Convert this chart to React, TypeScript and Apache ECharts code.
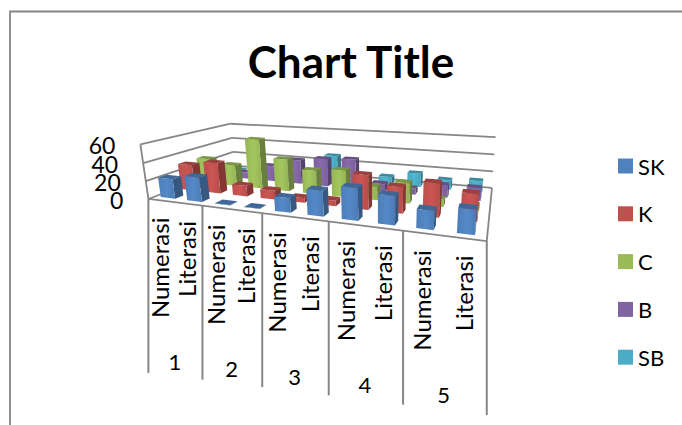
import React, { useEffect, useRef } from "react";
import * as echarts from "echarts";

// Two-level category axis: five groups, each with two assessments.
const groupLabels = ["1", "2", "3", "4", "5"];
const subLabels = ["Numerasi", "Literasi"];
const yTicks = [0, 20, 40, 60];

// Each list runs 1-Numerasi, 1-Literasi, 2-Numerasi, ... 5-Literasi.
const skValues = [22, 27, 0.5, 0.5, 15, 26, 32, 28, 18, 23];
const kValues = [30, 35, 12, 10, 5, 6, 36, 27, 34, 27];
const cValues = [30, 25, 58, 37, 27, 30, 15, 22, 8, 5];
const bValues = [0.5, 8, 19, 29, 33, 35, 9, 7, 14, 14];
const sbValues = [1, 1, 1, 1, 30, 2, 9, 16, 11, 13];

const seriesNames = ["SK", "K", "C", "B", "SB"];
const seriesValues = [skValues, kValues, cValues, bValues, sbValues];
const seriesColors = ["#4F81BD", "#C0504D", "#9BBB59", "#8064A2", "#4BACC6"];

const categories = groupLabels.flatMap((g) => subLabels.map((s) => `${g} ${s}`));

const WIDTH = 682;
const HEIGHT = 425;
const AXIS_COLOR = "#868686";
const FONT = "Lato, sans-serif";
// Columns keep a nearly constant screen width, so their share of a slot shrinks to the right.
const BAR_WIDTH_LEFT = 0.56;
const BAR_WIDTH_RIGHT = 0.42;
const BAR_DEPTH = 0.4; // share of a series row
const TICK_DROP = 174;

// Known positions of the chart box: [u along categories, v into depth, z up, screen x, screen y]
const boxAnchors: number[][] = [
  [0, 0, 0, 148, 199],
  [0.2, 0, 0, 202, 205.7],
  [0.4, 0, 0, 262, 213],
  [0.6, 0, 0, 329, 221.4],
  [0.8, 0, 0, 403, 230.6],
  [1, 0, 0, 487, 241],
  [0, 1, 0, 235, 166],
  [1, 1, 0, 492, 187],
  [0, 0, 1 / 3, 146, 181],
  [0, 1, 1 / 3, 233, 152],
  [1, 1, 1 / 3, 493, 172],
  [0, 0, 2 / 3, 143, 163],
  [0, 1, 2 / 3, 232, 138],
  [1, 1, 2 / 3, 494, 155],
  [0, 0, 1, 141, 145],
  [0, 1, 1, 230, 123],
  [1, 1, 1, 496, 137],
];

// Least-squares fit of a perspective camera (3x4 matrix with its last entry fixed at 1).
function fitCamera(anchors: number[][]): number[] {
  const rows: number[][] = [];
  const rhs: number[] = [];
  for (const [u, v, z, sx, sy] of anchors) {
    const x = sx / 100;
    const y = sy / 100;
    rows.push([u, v, z, 1, 0, 0, 0, 0, -x * u, -x * v, -x * z]);
    rhs.push(x);
    rows.push([0, 0, 0, 0, u, v, z, 1, -y * u, -y * v, -y * z]);
    rhs.push(y);
  }
  const n = 11;
  const m: number[][] = Array.from({ length: n }, (_, i) =>
    Array.from({ length: n + 1 }, (_, j) => {
      let sum = 0;
      rows.forEach((r, k) => {
        sum += r[i] * (j === n ? rhs[k] : r[j]);
      });
      return sum;
    })
  );
  for (let i = 0; i < n; i++) {
    let pivot = i;
    for (let r = i + 1; r < n; r++) if (Math.abs(m[r][i]) > Math.abs(m[pivot][i])) pivot = r;
    [m[i], m[pivot]] = [m[pivot], m[i]];
    for (let r = 0; r < n; r++) {
      if (r === i) continue;
      const f = m[r][i] / m[i][i];
      for (let c = i; c <= n; c++) m[r][c] -= f * m[i][c];
    }
  }
  return m.map((r, i) => r[n] / r[i]);
}

const camera = fitCamera(boxAnchors);

function project(u: number, v: number, z: number): number[] {
  const p = camera;
  const w = p[8] * u + p[9] * v + p[10] * z + 1;
  return [
    (100 * (p[0] * u + p[1] * v + p[2] * z + p[3])) / w,
    (100 * (p[4] * u + p[5] * v + p[6] * z + p[7])) / w,
  ];
}

function shade(hex: string, f: number): string {
  const n = parseInt(hex.slice(1), 16);
  const ch = (s: number) => Math.max(0, Math.min(255, Math.round(((n >> s) & 255) * f)));
  return `rgb(${ch(16)},${ch(8)},${ch(0)})`;
}

// One 3D column: the scales supply its slot and height, the camera places its faces.
function columnRenderer(seriesIdx: number) {
  const base = seriesColors[seriesIdx];
  return (params: any, api: any) => {
    const sys = params.coordSys;
    const top = api.coord([api.value(0), api.value(1)]);
    const slotCentre = (top[0] - sys.x) / sys.width;
    const z = (sys.y + sys.height - top[1]) / sys.height;
    const share = BAR_WIDTH_LEFT + (BAR_WIDTH_RIGHT - BAR_WIDTH_LEFT) * slotCentre;
    const halfW = (share * 0.1) / 2;
    const u0 = slotCentre - halfW;
    const u1 = slotCentre + halfW;
    const rowCentre = (seriesIdx + 0.5) / seriesNames.length;
    const halfD = (BAR_DEPTH / seriesNames.length) / 2;
    const v0 = rowCentre - halfD;
    const v1 = rowCentre + halfD;
    const face = (pts: number[][], fill: any) => ({
      type: "polygon",
      shape: { points: pts },
      style: { fill, stroke: "none" },
      silent: true,
    });
    const frontFill = new echarts.graphic.LinearGradient(0, 0, 1, 0, [
      { offset: 0, color: shade(base, 0.97) },
      { offset: 0.5, color: shade(base, 1.06) },
      { offset: 1, color: shade(base, 0.95) },
    ]);
    return {
      type: "group",
      children: [
        face(
          [project(u1, v0, 0), project(u1, v1, 0), project(u1, v1, z), project(u1, v0, z)],
          shade(base, 0.68)
        ),
        face(
          [project(u0, v0, 0), project(u1, v0, 0), project(u1, v0, z), project(u0, v0, z)],
          frontFill
        ),
        face(
          [project(u0, v0, z), project(u1, v0, z), project(u1, v1, z), project(u0, v1, z)],
          shade(base, 0.8)
        ),
      ],
    };
  };
}

// Walls, floor outline, category ticks and every axis label.
function frameRenderer(params: any, api: any) {
  const sys = params.coordSys;
  const line = (a: number[], b: number[], width = 1.8) => ({
    type: "line",
    shape: { x1: a[0], y1: a[1], x2: b[0], y2: b[1] },
    style: { stroke: AXIS_COLOR, lineWidth: width },
    silent: true,
  });
  const label = (text: string, x: number, y: number, size: number, extra: any = {}) => ({
    type: "text",
    x,
    y,
    rotation: extra.rotation || 0,
    silent: true,
    style: {
      text,
      fill: "#000",
      font: `${size}px ${FONT}`,
      lineHeight: extra.lineHeight,
      align: extra.align || "center",
      verticalAlign: "middle",
    },
  });
  const zOf = (tick: number) =>
    (sys.y + sys.height - api.coord([0, tick])[1]) / sys.height;

  const children: any[] = [];
  yTicks.forEach((tick) => {
    const z = zOf(tick);
    children.push(line(project(0, 0, z), project(0, 1, z)));
    children.push(line(project(0, 1, z), project(1, 1, z)));
    const at = project(0, 0, z);
    children.push(label(String(tick), at[0] - 25, at[1] + 1, 23, { align: "right", lineHeight: 17 }));
  });
  children.push(line(project(0, 0, 0), project(0, 0, 1)));
  children.push(line(project(0, 0, 0), project(1, 0, 0)));
  children.push(line(project(1, 0, 0), project(1, 1, 0)));

  const slots = categories.length;
  const slotCentre = (i: number) => (api.coord([i, 0])[0] - sys.x) / sys.width;
  for (let g = 0; g <= groupLabels.length; g++) {
    const at = project(g / groupLabels.length, 0, 0);
    children.push(line(at, [at[0], at[1] + TICK_DROP], 2));
  }
  for (let i = 0; i < slots; i++) {
    const at = project(slotCentre(i), 0, 0);
    children.push(
      label(subLabels[i % subLabels.length], at[0] - 1.5, at[1] + 17, 24, {
        align: "right",
        rotation: Math.PI / 2,
      })
    );
  }
  groupLabels.forEach((g, idx) => {
    const at = project((idx + 0.5) / groupLabels.length, 0, 0);
    children.push(label(g, at[0], at[1] + 159, 22));
  });
  return { type: "group", children };
}

export default function App() {
  const ref = useRef<HTMLDivElement>(null);

  useEffect(() => {
    const chart = echarts.init(ref.current!, undefined, { renderer: "svg" });
    chart.setOption({
      animation: false,
      backgroundColor: "#fff",
      textStyle: { fontFamily: FONT },
      title: {
        text: "Chart Title",
        left: 346,
        top: 34,
        textAlign: "center",
        textStyle: { fontFamily: FONT, fontSize: 44, fontWeight: "bold", color: "#000" },
      },
      legend: {
        data: seriesNames,
        orient: "vertical",
        left: 613,
        top: 150,
        itemWidth: 15,
        itemHeight: 15,
        itemGap: 25.8,
        icon: "rect",
        selectedMode: false,
        textStyle: { fontFamily: FONT, fontSize: 22, color: "#000" },
      },
      grid: { left: 0, top: 0, width: WIDTH, height: HEIGHT, show: false },
      xAxis: { type: "category", data: categories, show: false },
      yAxis: { type: "value", min: 0, max: 60, interval: 20, show: false },
      graphic: [
        {
          type: "polyline",
          silent: true,
          shape: { points: [[10, HEIGHT], [10, 11.5], [WIDTH, 11.5]] },
          style: { stroke: AXIS_COLOR, lineWidth: 1.8, fill: "none" },
        },
      ],
      series: [
        {
          type: "custom",
          name: "frame",
          coordinateSystem: "cartesian2d",
          clip: false,
          z: 1,
          silent: true,
          renderItem: frameRenderer,
          data: [[0, 0]],
        },
        ...seriesNames.map((name, s) => ({
          type: "custom",
          name,
          coordinateSystem: "cartesian2d",
          clip: false,
          z: 10 - s,
          silent: true,
          itemStyle: { color: seriesColors[s] },
          renderItem: columnRenderer(s),
          encode: { x: 0, y: 1 },
          data: seriesValues[s].map((value, i) => [i, value]),
        })),
      ],
    });
    return () => chart.dispose();
  }, []);

  return (
    <div
      ref={ref}
      style={{ position: "absolute", left: 0, top: 0, width: WIDTH, height: HEIGHT }}
    />
  );
}
